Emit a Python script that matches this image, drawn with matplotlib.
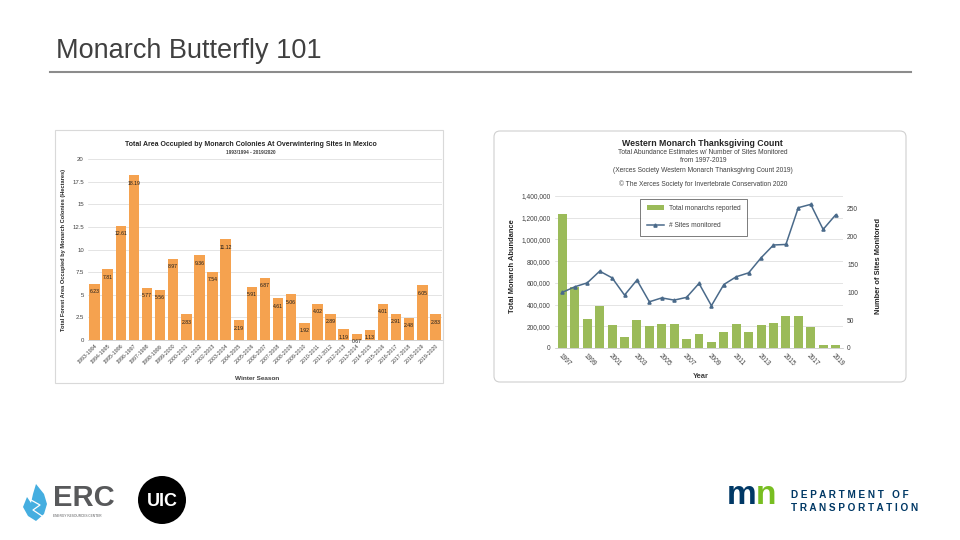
import matplotlib
matplotlib.use('Agg')
import matplotlib.pyplot as plt
from matplotlib.patches import Rectangle, FancyBboxPatch, Circle, Polygon

plt.rcParams['font.family'] = ['Liberation Sans', 'DejaVu Sans']

# Данные: площадь колоний в Мексике (гектары)
seasons = ['1993-1994', '1994-1995', '1995-1996', '1996-1997', '1997-1998', '1998-1999',
           '1999-2000', '2000-2001', '2001-2002', '2002-2003', '2003-2004', '2004-2005',
           '2005-2006', '2006-2007', '2007-2008', '2008-2009', '2009-2010', '2010-2011',
           '2011-2012', '2012-2013', '2013-2014', '2014-2015', '2015-2016', '2016-2017',
           '2017-2018', '2018-2019', '2019-2020']
hectares = [6.23, 7.81, 12.61, 18.19, 5.77, 5.56, 8.97, 2.83, 9.36, 7.54, 11.12, 2.19,
            5.91, 6.87, 4.61, 5.06, 1.92, 4.02, 2.89, 1.19, 0.67, 1.13, 4.01, 2.91,
            2.48, 6.05, 2.83]

# Данные: Western Monarch Thanksgiving Count
years = list(range(1997, 2020))
monarchs = [1235490, 564349, 267574, 390057, 209570, 99353, 254378, 205085, 218679,
            221058, 86437, 131889, 58468, 143204, 222525, 144812, 211275, 234731,
            292888, 298464, 192624, 27218, 29418]
sites = [100, 110, 117, 138, 126, 95, 122, 83, 90, 86, 91, 116, 76, 114, 128, 135,
         162, 185, 186, 252, 258, 213, 239]

fig = plt.figure(figsize=(9.6, 5.4), dpi=100)
fig.patch.set_facecolor('white')

# ========== фон слайда в пиксельных координатах ==========
bg = fig.add_axes([0, 0, 1, 1])
bg.set_xlim(0, 960)
bg.set_ylim(540, 0)
bg.axis('off')

bg.text(56, 51, 'Monarch Butterfly 101', fontsize=19.5, color='#404040', va='center', ha='left')
bg.plot([50, 911], [72, 72], color='#8c8c8c', linewidth=1.5)

# рамки картинок
bg.add_patch(Rectangle((55, 130), 388, 253, fill=False, edgecolor='#d9d9d9', linewidth=0.8))
bg.add_patch(FancyBboxPatch((494, 131), 412, 251, boxstyle='round,pad=0,rounding_size=6',
                            fill=False, edgecolor='#d0d0d0', linewidth=0.8))

# подписи левого графика
bg.text(251, 144, 'Total Area Occupied by Monarch Colonies At Overwintering Sites in Mexico',
        fontsize=5.0, fontweight='bold', ha='center', va='center', color='#262626')
bg.text(251, 153, '1993/1994 - 2019/2020', fontsize=3.4, fontweight='bold',
        ha='center', va='center', color='#404040')
bg.text(64, 250, 'Total Forest Area Occupied by Monarch Colonies (Hectares)', fontsize=4.1,
        fontweight='bold', rotation=90, ha='center', va='center', color='#262626')
bg.text(257, 378, 'Winter Season', fontsize=4.6, fontweight='bold',
        ha='center', va='center', color='#404040')

# подписи правого графика
bg.text(702, 143, 'Western Monarch Thanksgiving Count', fontsize=6.3, fontweight='bold',
        ha='center', va='center', color='#262626')
sub = dict(fontsize=4.8, ha='center', va='center', color='#404040')
bg.text(703, 153, 'Total Abundance Estimates w/ Number of Sites Monitored', **sub)
bg.text(703, 161, 'from 1997-2019', **sub)
bg.text(703, 170, '(Xerces Society Western Monarch Thanksgiving Count 2019)', **sub)
bg.text(703, 184, '\u00a9 The Xerces Society for Invertebrate Conservation 2020', **sub)
bg.text(513, 266, 'Total Monarch Abundance', fontsize=5.4, fontweight='bold', rotation=90,
        ha='center', va='center', color='#262626')
bg.text(878, 266, 'Number of Sites Monitored', fontsize=5.4, fontweight='bold', rotation=90,
        ha='center', va='center', color='#262626')
bg.text(701, 376, 'Year', fontsize=5.4, fontweight='bold', ha='center', va='center', color='#404040')

# логотипы
flame = Polygon([(36, 484), (44, 494), (47, 504), (44, 514), (36, 521), (28, 516),
                 (23, 507), (27, 497), (31, 503), (33, 494)],
                closed=True, facecolor='#45aee0', edgecolor='none')
bg.add_patch(flame)
bg.plot([31, 40, 33, 42], [500, 505, 510, 516], color='white', linewidth=0.9)
bg.text(53, 498, 'ERC', fontsize=21, fontweight='bold', color='#58595b', ha='left', va='center')
bg.text(53, 516, 'ENERGY RESOURCES CENTER', fontsize=2.3, color='#58595b', ha='left', va='center')
bg.add_patch(Circle((162, 500), 24, facecolor='black', edgecolor='none'))
bg.text(162, 501, 'UIC', fontsize=13, fontweight='bold', color='white', ha='center', va='center')
bg.text(727, 496, 'm', fontsize=24, fontweight='bold', color='#003865', ha='left', va='center')
bg.text(756, 496, 'n', fontsize=24, fontweight='bold', color='#78be21', ha='left', va='center')
bg.text(791, 495, 'D E P A R T M E N T   O F', fontsize=7.2, fontweight='bold',
        color='#003865', ha='left', va='center')
bg.text(791, 508, 'T R A N S P O R T A T I O N', fontsize=7.2, fontweight='bold',
        color='#003865', ha='left', va='center')

# ========== ЛЕВЫЙ ГРАФИК: площадь колоний ==========
ax1 = fig.add_axes([88 / 960, 1 - 340 / 540, (442 - 88) / 960, (340 - 159) / 540])
x1 = range(len(seasons))
ax1.bar(x1, hectares, width=0.8, color='#f5a24f', zorder=2)
for i, v in enumerate(hectares):
    ax1.text(i, v - 0.6, f'{v:.2f}', fontsize=3.7, ha='center', va='top', color='#1a1a1a', zorder=3)
ax1.set_ylim(0, 20)
ax1.set_xlim(-0.5, len(seasons) - 0.5)
ax1.set_yticks([0, 2.5, 5, 7.5, 10, 12.5, 15, 17.5, 20])
ax1.set_yticklabels(['0', '2.5', '5', '7.5', '10', '12.5', '15', '17.5', '20'])
ax1.set_xticks(list(x1))
ax1.set_xticklabels(seasons, rotation=45, ha='right', rotation_mode='anchor')
ax1.tick_params(axis='y', labelsize=4.3, length=0, pad=3, colors='#404040')
ax1.tick_params(axis='x', labelsize=3.8, length=0, pad=2.5, colors='#404040')
ax1.grid(True, axis='y', color='#d9d9d9', linewidth=0.5, zorder=0)
for s in ['top', 'right', 'left']:
    ax1.spines[s].set_visible(False)
ax1.spines['bottom'].set_color('#bfbfbf')
ax1.spines['bottom'].set_linewidth(0.5)

# ========== ПРАВЫЙ ГРАФИК: Thanksgiving Count ==========
ax2 = fig.add_axes([555 / 960, 1 - 348 / 540, (843 - 555) / 960, (348 - 196) / 540])
bars = ax2.bar(years, monarchs, width=0.72, color='#9bbb59', zorder=2, label='Total monarchs reported')
ax2.set_ylim(0, 1400000)
ax2.set_xlim(years[0] - 0.6, years[-1] + 0.6)
ax2.set_yticks(range(0, 1400001, 200000))
ax2.set_yticklabels([f'{v:,}' for v in range(0, 1400001, 200000)])
ax2.set_xticks(years[::2])
ax2.set_xticklabels([str(y) for y in years[::2]], rotation=-45, ha='left', rotation_mode='anchor')
ax2.tick_params(axis='both', labelsize=4.8, length=0, pad=3, colors='#404040')
ax2.grid(True, axis='y', color='#d9d9d9', linewidth=0.5, zorder=0)
for s in ['top', 'right', 'left']:
    ax2.spines[s].set_visible(False)
ax2.spines['bottom'].set_color('#bfbfbf')
ax2.spines['bottom'].set_linewidth(0.5)

ax3 = ax2.twinx()
line, = ax3.plot(years, sites, color='#4a6a8a', linewidth=1.1, marker='^', markersize=2.3,
                 label='# Sites monitored', zorder=3)
ax3.set_ylim(0, 273)
ax3.set_yticks([0, 50, 100, 150, 200, 250])
ax3.tick_params(axis='y', labelsize=4.8, length=0, pad=3, colors='#404040')
for s in ['top', 'right', 'left', 'bottom']:
    ax3.spines[s].set_visible(False)

leg = ax3.legend(handles=[bars, line], loc='upper left', bbox_to_anchor=(0.285, 1.005),
                 fontsize=4.8, frameon=True, fancybox=False, edgecolor='#404040',
                 labelspacing=1.5, borderpad=1.0, handlelength=2.5, handleheight=0.8)
leg.get_frame().set_linewidth(0.6)
for t in leg.get_texts():
    t.set_color('#404040')

plt.savefig('out.png', dpi=100)
